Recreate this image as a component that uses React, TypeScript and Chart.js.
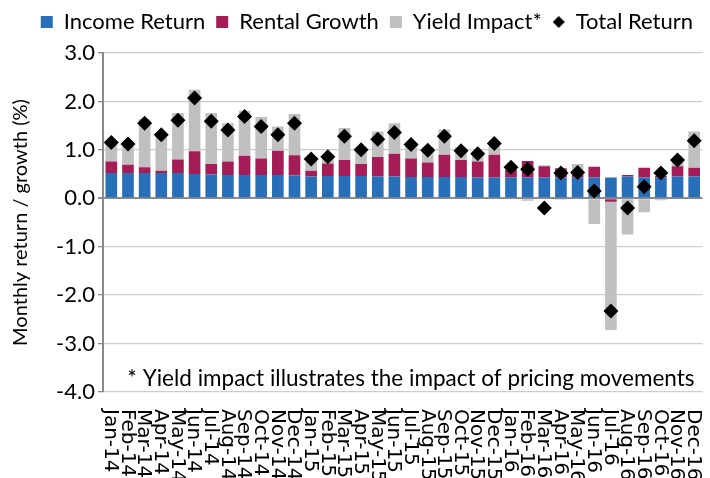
import React, { useEffect, useRef } from "react";
import { Chart, registerables } from "chart.js";

Chart.register(...registerables);

const months = [
  "Jan-14", "Feb-14", "Mar-14", "Apr-14", "May-14", "Jun-14", "Jul-14", "Aug-14", "Sep-14", "Oct-14", "Nov-14", "Dec-14",
  "Jan-15", "Feb-15", "Mar-15", "Apr-15", "May-15", "Jun-15", "Jul-15", "Aug-15", "Sep-15", "Oct-15", "Nov-15", "Dec-15",
  "Jan-16", "Feb-16", "Mar-16", "Apr-16", "May-16", "Jun-16", "Jul-16", "Aug-16", "Sep-16", "Oct-16", "Nov-16", "Dec-16",
];

const incomeReturn = [
  0.52, 0.52, 0.52, 0.52, 0.52, 0.50, 0.49, 0.48, 0.48, 0.48, 0.48, 0.47,
  0.45, 0.46, 0.46, 0.46, 0.45, 0.45, 0.44, 0.44, 0.44, 0.44, 0.43, 0.43,
  0.43, 0.43, 0.43, 0.43, 0.43, 0.43, 0.43, 0.45, 0.43, 0.43, 0.45, 0.45,
];

const rentalGrowth = [
  0.24, 0.17, 0.12, 0.05, 0.28, 0.47, 0.22, 0.28, 0.40, 0.34, 0.50, 0.42,
  0.12, 0.26, 0.33, 0.25, 0.40, 0.47, 0.38, 0.30, 0.46, 0.35, 0.33, 0.47,
  0.16, 0.34, 0.23, 0.19, 0.05, 0.22, -0.07, 0.03, 0.20, 0.03, 0.21, 0.18,
];

const yieldImpact = [
  0.36, 0.40, 0.99, 0.70, 0.96, 1.27, 1.05, 0.79, 0.93, 0.86, 0.50, 0.85,
  0.19, 0.14, 0.66, 0.34, 0.53, 0.63, 0.28, 0.32, 0.52, 0.26, 0.17, 0.18,
  0.08, -0.05, 0.02, -0.03, 0.23, -0.53, -2.65, -0.75, -0.29, -0.04, 0.10, 0.75,
];

const totalReturn = [
  1.15, 1.12, 1.55, 1.31, 1.61, 2.07, 1.59, 1.41, 1.69, 1.48, 1.31, 1.55,
  0.81, 0.86, 1.28, 1.00, 1.22, 1.36, 1.11, 0.99, 1.28, 0.98, 0.92, 1.13,
  0.64, 0.60, -0.20, 0.52, 0.53, 0.15, -2.33, -0.20, 0.24, 0.52, 0.79, 1.19,
];

const seriesNames = ["Income Return", "Rental Growth", "Yield Impact*", "Total Return"];
const yTitle = "Monthly return / growth (%)";
const footnote = "* Yield impact illustrates the impact of pricing movements";

const BLUE = "#2770b9";
const CRIMSON = "#a51d56";
const GREY = "#c0c0c0";
const AXIS = "#8a8a8a";
const GRID = "#cccccc";
const FONT = "Lato";

function makeDiamond(size: number) {
  const c = document.createElement("canvas");
  c.width = size;
  c.height = size;
  const g = c.getContext("2d")!;
  g.fillStyle = "#000";
  g.beginPath();
  g.moveTo(size / 2, 0);
  g.lineTo(size, size / 2);
  g.lineTo(size / 2, size);
  g.lineTo(0, size / 2);
  g.closePath();
  g.fill();
  return c;
}

const extrasPlugin = {
  id: "extras",
  afterDraw(chart: any) {
    const { ctx, chartArea, scales } = chart;
    const x = scales.x;
    ctx.save();
    ctx.fillStyle = "#000";
    ctx.font = '20px "DejaVu Sans"';
    ctx.textAlign = "left";
    ctx.textBaseline = "middle";
    months.forEach((m, i) => {
      const px = x.getPixelForTick(i);
      ctx.save();
      ctx.translate(px - 1, chartArea.bottom + 17);
      ctx.rotate(Math.PI / 2);
      ctx.fillText(m, 0, 0);
      ctx.restore();
    });
    ctx.font = `22.5px ${FONT}`;
    ctx.textAlign = "right";
    ctx.textBaseline = "alphabetic";
    ctx.fillText(footnote, chartArea.right - 8, chartArea.bottom - 6);
    ctx.restore();
  },
};

export default function App() {
  const ref = useRef<HTMLCanvasElement | null>(null);

  useEffect(() => {
    document.body.style.margin = "0";
    const canvas = ref.current;
    if (!canvas) return;
    const diamond = makeDiamond(12);
    const chart = new Chart(canvas, {
      type: "bar",
      data: {
        labels: months,
        datasets: [
          {
            type: "bar",
            label: seriesNames[0],
            data: incomeReturn,
            backgroundColor: BLUE,
            stack: "bars",
            barPercentage: 0.7,
            categoryPercentage: 1.0,
            order: 1,
          },
          {
            type: "bar",
            label: seriesNames[1],
            data: rentalGrowth,
            backgroundColor: CRIMSON,
            stack: "bars",
            barPercentage: 0.7,
            categoryPercentage: 1.0,
            order: 1,
          },
          {
            type: "bar",
            label: seriesNames[2],
            data: yieldImpact,
            backgroundColor: GREY,
            stack: "bars",
            barPercentage: 0.7,
            categoryPercentage: 1.0,
            order: 1,
          },
          {
            type: "line",
            label: seriesNames[3],
            data: totalReturn,
            showLine: false,
            pointStyle: "rectRot",
            pointRadius: 7.5,
            pointBackgroundColor: "#000",
            pointBorderColor: "#000",
            pointBorderWidth: 0,
            backgroundColor: "#000",
            borderColor: "#000",
            stack: "tr",
            order: 0,
          } as any,
        ],
      },
      options: {
        responsive: false,
        animation: false,
        devicePixelRatio: 1,
        layout: { padding: { left: 0, right: 6, top: 0, bottom: 0 } },
        plugins: {
          tooltip: { enabled: false },
          title: { display: true, text: "", padding: 0, font: { size: 10, lineHeight: 1 }, weight: 500 } as any,
          legend: {
            position: "top",
            align: "end",
            weight: 3000,
            labels: {
              usePointStyle: true,
              boxWidth: 12,
              boxHeight: 12,
              padding: 11,
              color: "#000",
              font: { family: FONT, size: 22 },
              sort: (a: any, b: any) => a.datasetIndex - b.datasetIndex,
              generateLabels: (ch: any) => {
                const items = Chart.defaults.plugins.legend.labels.generateLabels(ch);
                return items.map((it: any) => {
                  if (it.datasetIndex === 3) {
                    return { ...it, pointStyle: diamond, lineWidth: 0 };
                  }
                  return { ...it, pointStyle: "rect", lineWidth: 0 };
                });
              },
            },
          } as any,
        },
        scales: {
          x: {
            type: "category",
            offset: true,
            stacked: true,
            grid: { display: false },
            border: { display: false },
            ticks: { display: false },
            afterFit: (s: any) => {
              s.height = 86;
            },
          },
          y: {
            stacked: true,
            min: -4,
            max: 3,
            ticks: {
              stepSize: 1,
              color: "#000",
              font: { family: FONT, size: 22 },
              padding: 3,
              callback: (v: any) => Number(v).toFixed(1),
            },
            grid: {
              color: (c: any) => (c.tick && c.tick.value === 0 ? AXIS : GRID),
              lineWidth: (c: any) => (c.tick && c.tick.value === 0 ? 2 : 1.3),
              tickColor: AXIS,
              tickLength: 5,
              drawTicks: true,
            },
            border: { display: true, color: AXIS, width: 2 },
            title: {
              display: true,
              text: yTitle,
              color: "#000",
              font: { family: FONT, size: 20 },
              padding: { top: 9, bottom: 0 },
            },
            afterFit: (s: any) => {
              s.width = 103;
            },
          },
        },
      },
      plugins: [extrasPlugin],
    });
    return () => chart.destroy();
  }, []);

  return (
    <div style={{ width: 710, height: 478, position: "relative" }}>
      <canvas ref={ref} width={710} height={478} style={{ display: "block" }} />
    </div>
  );
}
